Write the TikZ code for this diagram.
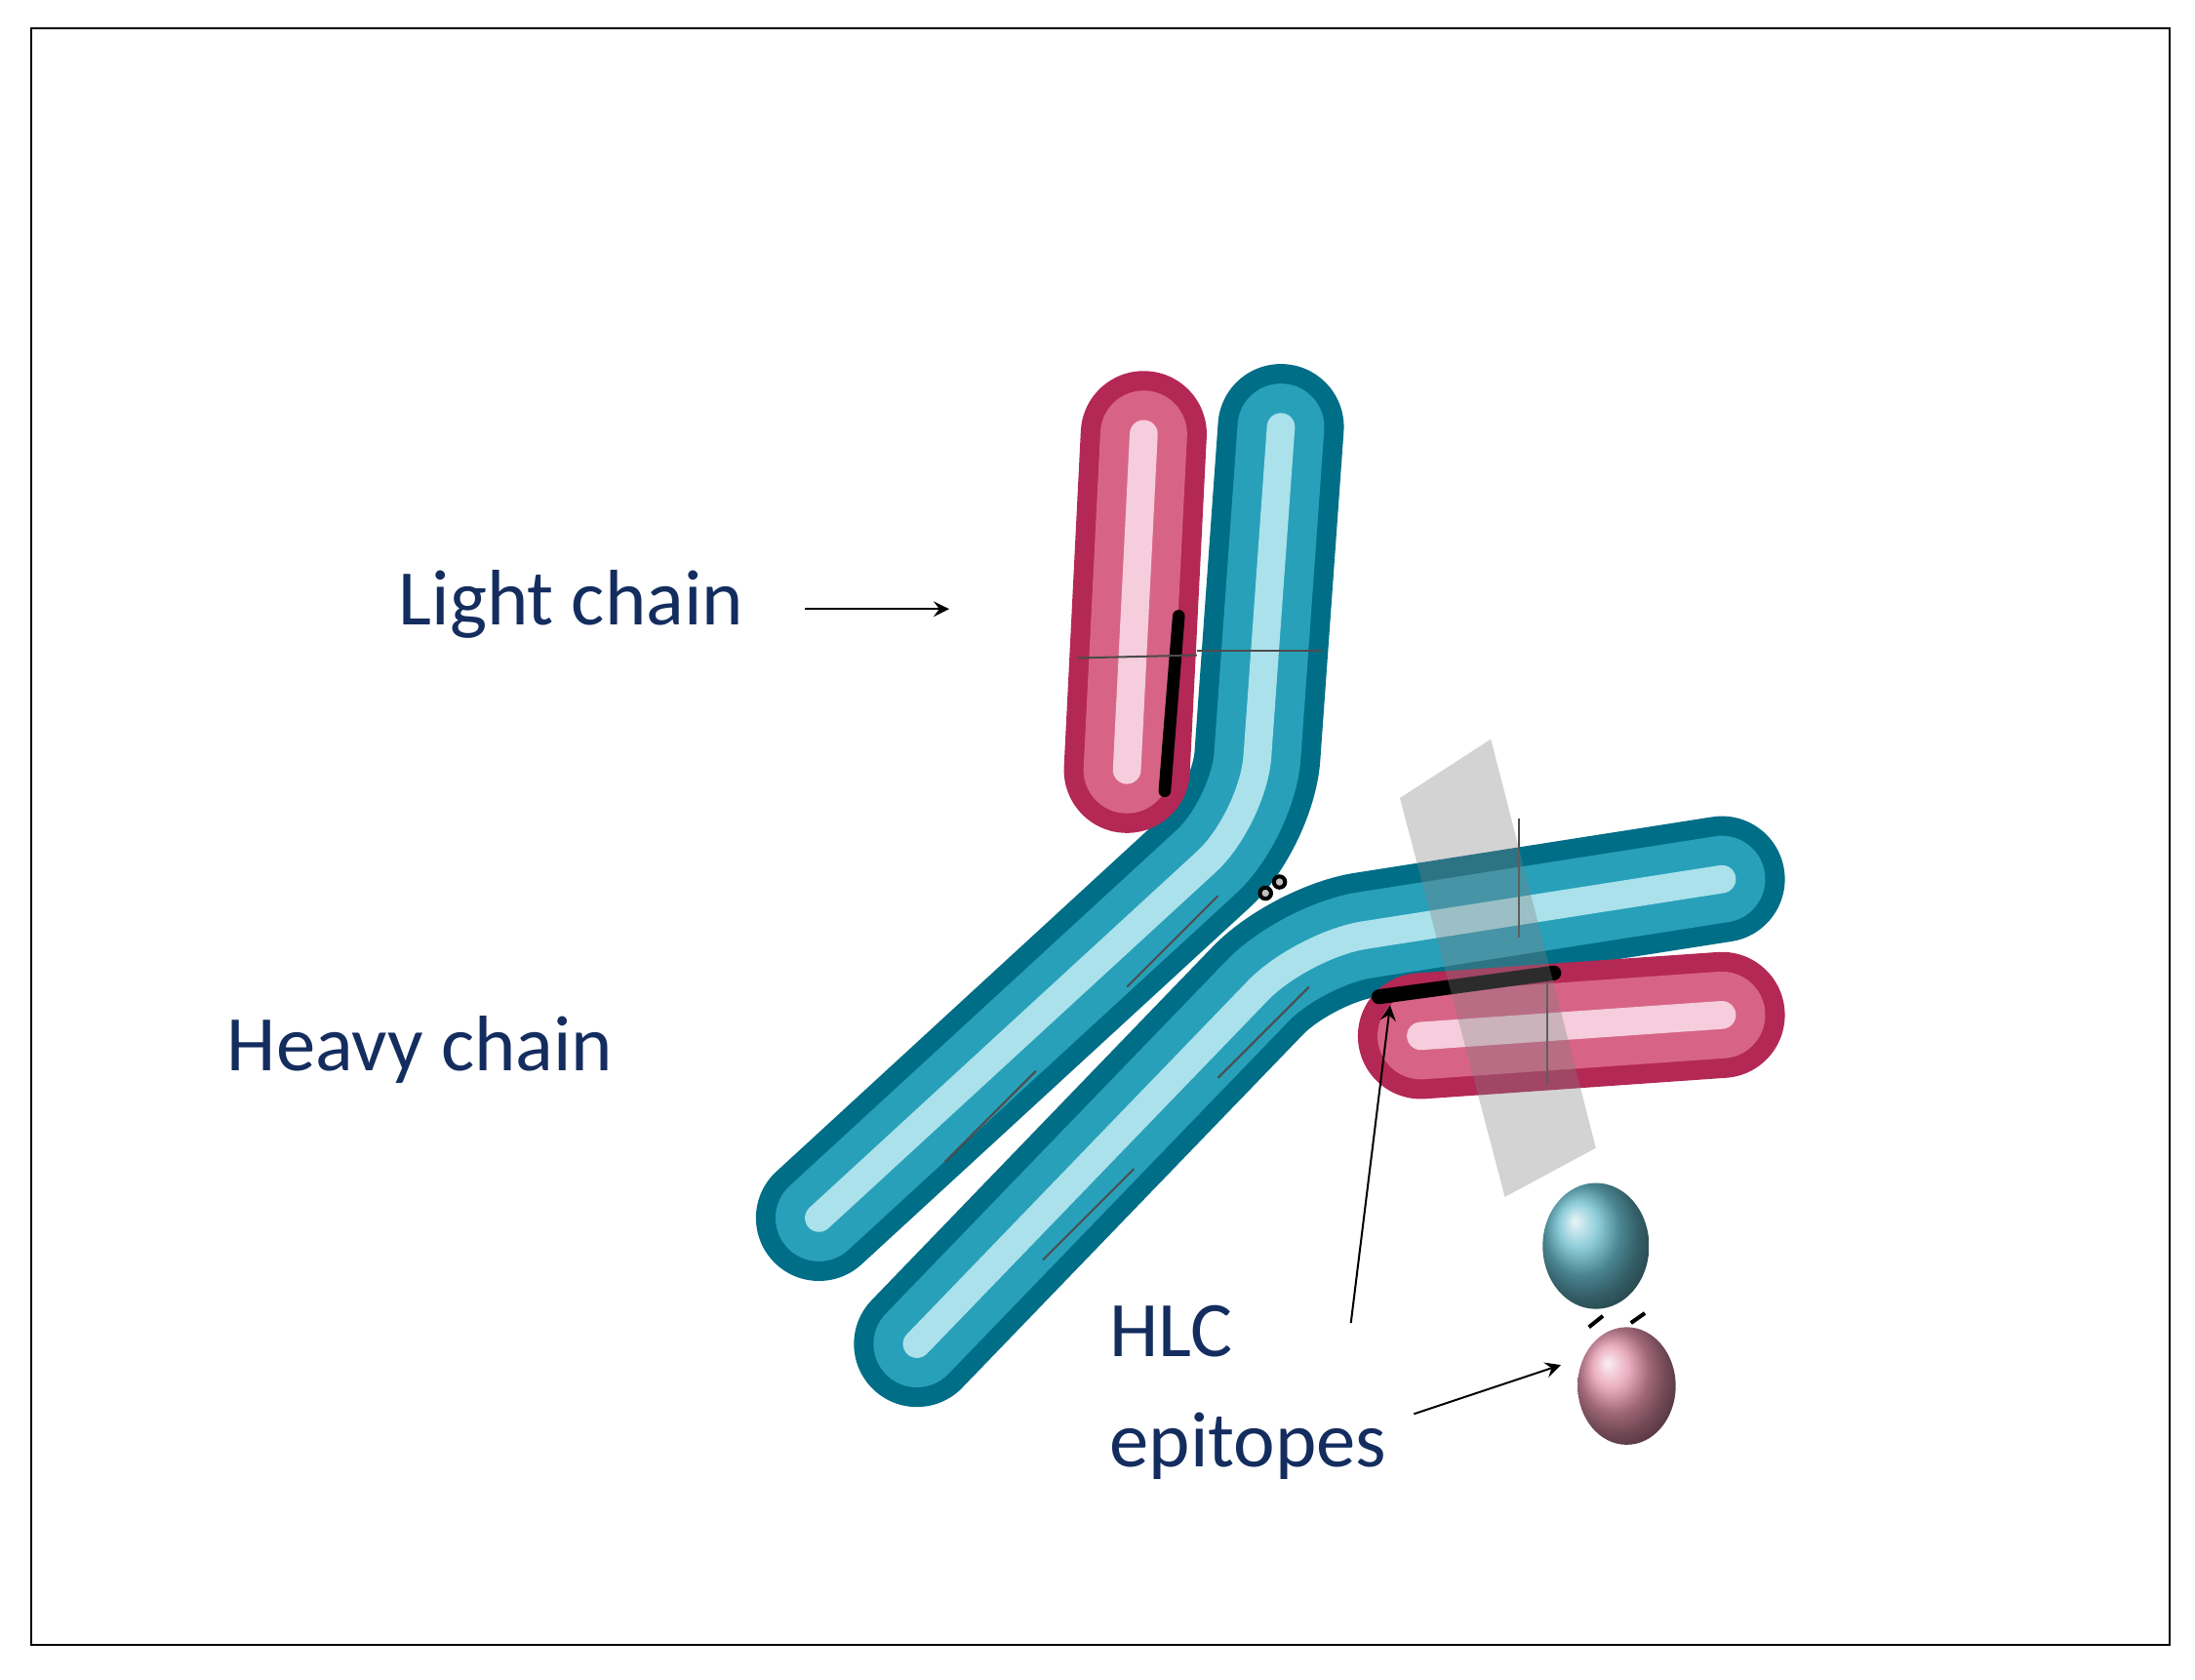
\documentclass[tikz,border=0pt]{standalone}
\usepackage{fontspec}
\setmainfont{Carlito}
\usetikzlibrary{calc}
\definecolor{tealdark}{RGB}{0,110,135}
\definecolor{tealmid}{RGB}{40,160,185}
\definecolor{teallight}{RGB}{170,225,235}
\definecolor{pinkdark}{RGB}{180,40,85}
\definecolor{pinkmid}{RGB}{215,100,135}
\definecolor{pinklight}{RGB}{245,205,220}
\definecolor{labelblue}{RGB}{20,45,95}
\tikzset{
  tubeout/.style={line width=#1, line cap=round, rounded corners=0.45cm},
  seg/.style={gray!60!black, thin},
  lbl/.style={text=labelblue, font=\fontsize{16}{19}\selectfont, inner sep=0pt},
  pointer/.style={->, >=stealth, thin}
}
\newcommand{\tube}[4]{% dark, mid, light, path
  \draw[tubeout=0.9cm, #1] #4;
  \draw[tubeout=0.62cm, #2] #4;
  \draw[tubeout=0.2cm, #3] #4;
}
\begin{document}
\begin{tikzpicture}
  \useasboundingbox (0,0) rectangle (15.68,12);
  \draw[thin] (0.22,0.25) rectangle (15.5,11.8);

  % heavy chain, upper arm
  \tube{tealdark}{tealmid}{teallight}{(9.15,8.95) -- (8.95,6.15) -- (5.85,3.3)}
  % light chain, upper
  \tube{pinkdark}{pinkmid}{pinklight}{(8.17,8.9) -- (8.05,6.5)}
  \draw[line width=2.5pt, black, line cap=round] (8.42,7.6) -- (8.32,6.35);
  % segment lines
  \draw[seg] (7.7,7.3) -- (8.55,7.32);
  \draw[seg] (8.55,7.35) -- (9.45,7.35);
  \draw[seg] (8.05,4.95) -- (8.7,5.6);
  \draw[seg] (6.75,3.7) -- (7.4,4.35);
  % heavy chain, lower arm
  \tube{tealdark}{tealmid}{teallight}{(6.55,2.4) -- (9.3,5.25) -- (12.3,5.72)}
  \draw[seg] (8.7,4.3) -- (9.35,4.95);
  \draw[seg] (7.45,3.0) -- (8.1,3.65);
  \draw[seg] (10.85,5.3) -- (10.85,6.15);
  % disulfide bridge
  \draw[thick, fill=gray!50] (9.04,5.62) circle [radius=0.04];
  \draw[thick, fill=gray!50] (9.14,5.7) circle [radius=0.04];
  % light chain, lower
  \tube{pinkdark}{pinkmid}{pinklight}{(10.15,4.6) -- (12.3,4.75)}
  \draw[seg] (11.05,4.25) -- (11.05,5.05);
  \draw[line width=3pt, black, line cap=round] (9.85,4.88) -- (11.1,5.05);
  % cleavage plane
  \fill[gray, opacity=0.35] (10,6.3) -- (10.65,6.72) -- (11.4,3.8) -- (10.75,3.45) -- cycle;
  % free light chain
  \shade[ball color=tealmid!70!white] (11.4,3.1) ellipse [x radius=0.38, y radius=0.45];
  \shade[ball color=pinkmid!70!white] (11.62,2.1) ellipse [x radius=0.35, y radius=0.42];
  \draw[thick] (11.35,2.52) -- (11.45,2.6) (11.65,2.55) -- (11.75,2.62);

  % labels
  \node[lbl] (light) at (4.08,7.68) {Light chain};
  \node[lbl] (heavy) at (3.0,4.5) {Heavy chain};
  \node[lbl, align=left, anchor=west] (hlc) at (7.92,2.05) {HLC\\[0.12cm]epitopes};
  \coordinate (lighttip) at (6.78,7.65);
  \coordinate (planetip) at (9.93,4.82);
  \coordinate (balltip) at (11.15,2.25);
  \draw[pointer] (5.75,7.65) -- (lighttip);
  \draw[pointer] (9.65,2.55) -- (planetip);
  \draw[pointer] (10.1,1.9) -- (balltip);
\end{tikzpicture}
\end{document}
